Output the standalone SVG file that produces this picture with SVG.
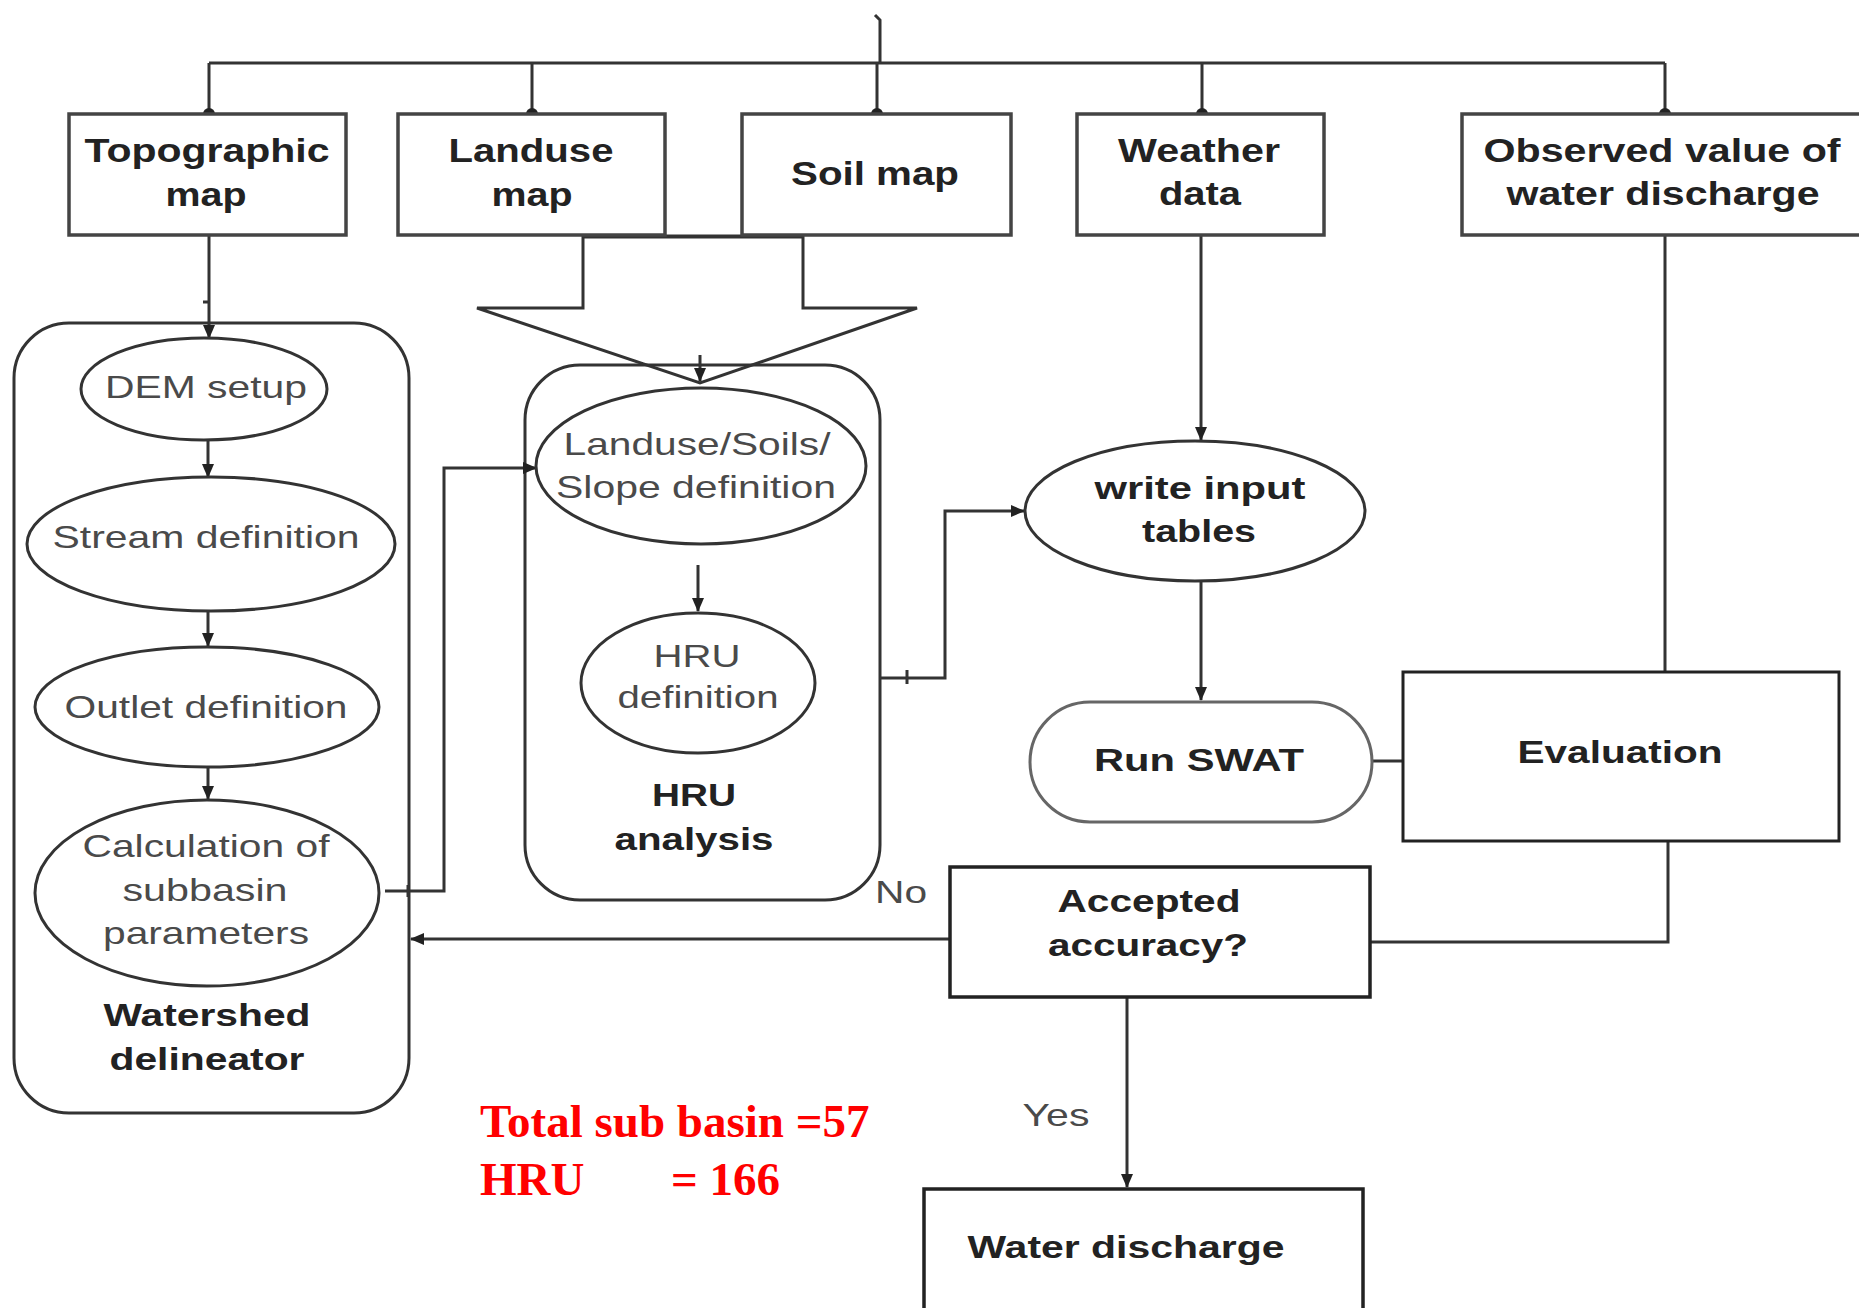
<svg xmlns="http://www.w3.org/2000/svg" width="1859" height="1308" viewBox="0 0 1859 1308">
<style>
.ln{fill:none;stroke:#333;stroke-width:3}
.bx{fill:#fff;stroke:#444;stroke-width:3.5}
.el{fill:#fff;stroke:#333;stroke-width:3}
.b{font-family:"Liberation Sans",Arial,sans-serif;font-weight:bold;fill:#222;text-anchor:middle}
.r{font-family:"Liberation Sans",Arial,sans-serif;fill:#4a4a4a;text-anchor:middle}
.red{font-family:"Liberation Serif","Times New Roman",serif;font-weight:bold;fill:#ff0000;font-size:47px}
</style>
<defs>
<marker id="ah" viewBox="0 0 14 12" refX="13" refY="6" markerWidth="14" markerHeight="12" markerUnits="userSpaceOnUse" orient="auto">
<path d="M0,0 L14,6 L0,12 Z" fill="#222"/>
</marker>
</defs>
<rect width="1859" height="1308" fill="#fff"/>

<g id="watershed-delineator">
<rect x="14" y="323" width="395" height="790" rx="55" class="el"/>
<text class="b" font-size="32" x="207" y="1026" textLength="207" lengthAdjust="spacingAndGlyphs">Watershed</text>
<text class="b" font-size="32" x="207" y="1070" textLength="195" lengthAdjust="spacingAndGlyphs">delineator</text>
</g>
<g id="hru-analysis">
<rect x="525" y="365" width="355" height="535" rx="55" class="el"/>
<text class="b" font-size="32" x="694" y="806" textLength="84" lengthAdjust="spacingAndGlyphs">HRU</text>
<text class="b" font-size="32" x="694" y="850" textLength="159" lengthAdjust="spacingAndGlyphs">analysis</text>
</g>

<g id="connectors">
<path class="ln" d="M209,63 H1665"/>
<path class="ln" d="M875,15 L880,20 V63"/>
<path class="ln" d="M209,63 V114 M532,63 V114 M877,63 V114 M1202,63 V114 M1665,63 V114"/>
<path class="ln" d="M583,237 V308 H477 L700,383 L917,308 H803 V237 Z" stroke-width="3"/>
<path class="ln" d="M583,236 H803" stroke-width="5"/>
<path class="ln" d="M700,355 V381" marker-end="url(#ah)"/>
<path class="ln" d="M209,234 V338" marker-end="url(#ah)"/>
<path class="ln" d="M203,302 H209"/>
<path class="ln" d="M208,440 V477" marker-end="url(#ah)"/>
<path class="ln" d="M208,612 V646" marker-end="url(#ah)"/>
<path class="ln" d="M208,767 V799" marker-end="url(#ah)"/>
<path class="ln" d="M385,891 H444 V468 H536" marker-end="url(#ah)"/>
<path class="ln" d="M408,885 V897"/>
<path class="ln" d="M698,565 V611" marker-end="url(#ah)"/>
<path class="ln" d="M880,678 H945 V511 H1024" marker-end="url(#ah)"/>
<path class="ln" d="M907,670 V684"/>
<path class="ln" d="M1201,234 V440" marker-end="url(#ah)"/>
<path class="ln" d="M1201,582 V700" marker-end="url(#ah)"/>
<path class="ln" d="M1665,234 V672"/>
<path class="ln" d="M1372,761 H1403"/>
<path class="ln" d="M1668,841 V942 H1370"/>
<path class="ln" d="M950,939 H411" marker-end="url(#ah)"/>
<path class="ln" d="M1127,997 V1187" marker-end="url(#ah)"/>
<circle cx="209" cy="114" r="6" fill="#222"/>
<circle cx="532" cy="114" r="6" fill="#222"/>
<circle cx="877" cy="114" r="6" fill="#222"/>
<circle cx="1202" cy="114" r="6" fill="#222"/>
<circle cx="1665" cy="114" r="6" fill="#222"/>
<text class="r" font-size="32" x="901" y="903" textLength="52" lengthAdjust="spacingAndGlyphs">No</text>
<text class="r" font-size="32" x="1056" y="1126" textLength="67" lengthAdjust="spacingAndGlyphs">Yes</text>
</g>

<g id="topographic-map">
<rect x="69" y="114" width="277" height="121" class="bx"/>
<text class="b" font-size="34" x="207" y="162" textLength="245" lengthAdjust="spacingAndGlyphs">Topographic</text>
<text class="b" font-size="34" x="206" y="206" textLength="81" lengthAdjust="spacingAndGlyphs">map</text>
</g>
<g id="landuse-map">
<rect x="398" y="114" width="267" height="121" class="bx"/>
<text class="b" font-size="34" x="531" y="162" textLength="165" lengthAdjust="spacingAndGlyphs">Landuse</text>
<text class="b" font-size="34" x="532" y="206" textLength="81" lengthAdjust="spacingAndGlyphs">map</text>
</g>
<g id="soil-map">
<rect x="742" y="114" width="269" height="121" class="bx"/>
<text class="b" font-size="34" x="875" y="185" textLength="168" lengthAdjust="spacingAndGlyphs">Soil map</text>
</g>
<g id="weather-data">
<rect x="1077" y="114" width="247" height="121" class="bx"/>
<text class="b" font-size="34" x="1199" y="162" textLength="162" lengthAdjust="spacingAndGlyphs">Weather</text>
<text class="b" font-size="34" x="1200" y="205" textLength="82" lengthAdjust="spacingAndGlyphs">data</text>
</g>
<g id="observed-discharge">
<rect x="1462" y="114" width="420" height="121" class="bx"/>
<text class="b" font-size="34" x="1662" y="162" textLength="357" lengthAdjust="spacingAndGlyphs">Observed value of</text>
<text class="b" font-size="34" x="1663" y="205" textLength="313" lengthAdjust="spacingAndGlyphs">water discharge</text>
</g>

<g id="dem-setup">
<ellipse cx="204" cy="389" rx="123" ry="51" class="el"/>
<text class="r" font-size="32" x="206" y="398" textLength="202" lengthAdjust="spacingAndGlyphs">DEM setup</text>
</g>
<g id="stream-definition">
<ellipse cx="211" cy="544" rx="184" ry="67" class="el"/>
<text class="r" font-size="32" x="206" y="548" textLength="307" lengthAdjust="spacingAndGlyphs">Stream definition</text>
</g>
<g id="outlet-definition">
<ellipse cx="207" cy="707" rx="172" ry="60" class="el"/>
<text class="r" font-size="32" x="206" y="718" textLength="283" lengthAdjust="spacingAndGlyphs">Outlet definition</text>
</g>
<g id="calculation-subbasin">
<ellipse cx="207" cy="893" rx="172" ry="93" class="el"/>
<text class="r" font-size="32" x="206" y="857" textLength="247" lengthAdjust="spacingAndGlyphs">Calculation of</text>
<text class="r" font-size="32" x="205" y="901" textLength="165" lengthAdjust="spacingAndGlyphs">subbasin</text>
<text class="r" font-size="32" x="206" y="944" textLength="206" lengthAdjust="spacingAndGlyphs">parameters</text>
</g>
<g id="landuse-soils-slope">
<ellipse cx="701" cy="466" rx="165" ry="78" class="el"/>
<text class="r" font-size="32" x="697" y="455" textLength="267" lengthAdjust="spacingAndGlyphs">Landuse/Soils/</text>
<text class="r" font-size="32" x="696" y="498" textLength="280" lengthAdjust="spacingAndGlyphs">Slope definition</text>
</g>
<g id="hru-definition">
<ellipse cx="698" cy="683" rx="117" ry="70" class="el"/>
<text class="r" font-size="32" x="697" y="667" textLength="87" lengthAdjust="spacingAndGlyphs">HRU</text>
<text class="r" font-size="32" x="698" y="708" textLength="161" lengthAdjust="spacingAndGlyphs">definition</text>
</g>
<g id="write-input-tables">
<ellipse cx="1195" cy="511" rx="170" ry="70" class="el"/>
<text class="b" font-size="32" x="1200" y="499" textLength="211" lengthAdjust="spacingAndGlyphs">write input</text>
<text class="b" font-size="32" x="1199" y="542" textLength="114" lengthAdjust="spacingAndGlyphs">tables</text>
</g>
<g id="run-swat">
<rect x="1030" y="702" width="342" height="120" rx="60" fill="#fff" stroke="#666" stroke-width="3"/>
<text class="b" font-size="32" x="1199" y="771" textLength="210" lengthAdjust="spacingAndGlyphs">Run SWAT</text>
</g>
<g id="evaluation">
<rect x="1403" y="672" width="436" height="169" fill="#fff" stroke="#222" stroke-width="3"/>
<text class="b" font-size="32" x="1620" y="763" textLength="205" lengthAdjust="spacingAndGlyphs">Evaluation</text>
</g>
<g id="accepted-accuracy">
<rect x="950" y="867" width="420" height="130" fill="#fff" stroke="#222" stroke-width="3.5"/>
<text class="b" font-size="32" x="1149" y="912" textLength="183" lengthAdjust="spacingAndGlyphs">Accepted</text>
<text class="b" font-size="32" x="1148" y="956" textLength="200" lengthAdjust="spacingAndGlyphs">accuracy?</text>
</g>
<g id="water-discharge">
<rect x="924" y="1189" width="439" height="150" fill="#fff" stroke="#222" stroke-width="3.5"/>
<text class="b" font-size="32" x="1126" y="1258" textLength="317" lengthAdjust="spacingAndGlyphs">Water discharge</text>
</g>
<g id="summary">
<text class="red" x="480" y="1137">Total sub basin =57</text>
<text class="red" y="1195"><tspan x="480">HRU</tspan><tspan x="671">= 166</tspan></text>
</g>
</svg>
